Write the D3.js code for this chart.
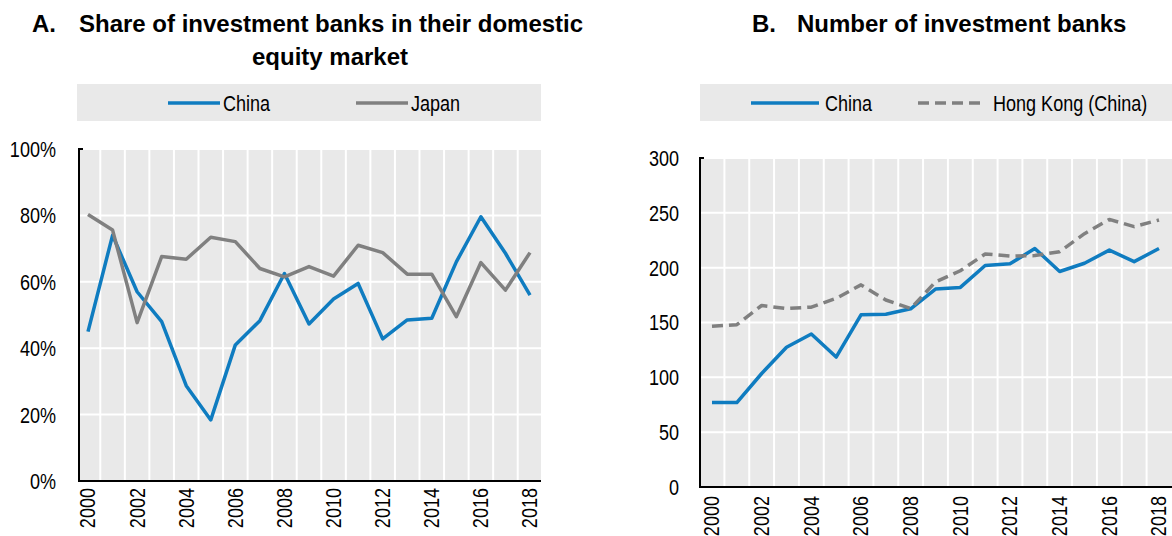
<!DOCTYPE html>
<html><head><meta charset="utf-8">
<script src="https://cdn.jsdelivr.net/npm/d3@7"></script>
<style>
body{margin:0;background:#fff;}
svg{display:block;}
</style></head>
<body><svg id="c" width="1172" height="536"></svg>
<script>
const years = [2000,2001,2002,2003,2004,2005,2006,2007,2008,2009,2010,2011,2012,2013,2014,2015,2016,2017,2018];
const yearTicks = [2000,2002,2004,2006,2008,2010,2012,2014,2016,2018];
// Panel A: share (%)
const shareChina = [45,74,57,48,28.7,18.4,41,48.3,62.5,47.3,54.8,59.5,42.8,48.5,49,66,79.6,68.6,56];
const shareJapan = [80.3,75.6,47.7,67.6,66.8,73.4,72.1,64,61.5,64.6,61.7,71,68.8,62.3,62.3,49.5,65.8,57.5,68.8];
const shareTicks = [0,20,40,60,80,100];
// Panel B: number of banks
const numChina = [77,77,103.5,127.5,139.5,118.5,157,157.5,162.5,180.5,182,202,203.5,217.5,196.5,204,216,205.5,217.5];
const numHK = [146.5,148,165.5,162.8,164,172,184.3,170.5,162.8,187,197.2,212.5,210.6,211,214.6,231,244,237.4,243.5];
const numTicks = [0,50,100,150,200,250,300];

const BLUE = "#0f7cc0", GREY = "#808080", BG = "#e9e9e9";
const FONT = "'Liberation Sans Narrow','Arial Narrow','Liberation Sans',Arial,sans-serif";
const TFONT = "'Liberation Sans',Arial,sans-serif";
const NARROW = "scale(0.82,1)";
const svg = d3.select("#c");

function panel(cfg){
  const g = svg.append("g");
  const x = d3.scalePoint().domain(years).range([cfg.px0, cfg.px1]);
  const step = x.step();
  const y = d3.scaleLinear().domain(cfg.yDomain).range([cfg.yBottom, cfg.yTop]);
  g.append("rect").attr("x", cfg.left).attr("y", cfg.yTop).attr("width", cfg.right - cfg.left)
    .attr("height", cfg.yBottom - cfg.yTop).attr("fill", BG);
  g.selectAll(".vg").data(years.slice(0,-1)).join("line")
    .attr("x1", d => x(d) + step/2).attr("x2", d => x(d) + step/2)
    .attr("y1", cfg.yTop).attr("y2", cfg.yBottom)
    .attr("stroke", "#fff").attr("stroke-width", 2);
  g.selectAll(".hg").data(cfg.ticks).join("line")
    .attr("x1", cfg.left).attr("x2", cfg.right)
    .attr("y1", d => y(d)).attr("y2", d => y(d))
    .attr("stroke", "#fff").attr("stroke-width", 2);
  g.selectAll(".yl").data(cfg.ticks).join("text")
    .attr("transform", d => `translate(${cfg.labelX},${y(d)}) ${NARROW}`)
    .attr("dy", "0.36em")
    .attr("text-anchor", "end").attr("font-family", FONT).attr("font-size", 22).attr("fill", "#000")
    .text(cfg.fmt);
  g.selectAll(".xl").data(yearTicks).join("text")
    .attr("transform", d => `translate(${x(d)},${cfg.yBottom + cfg.xlabOff}) rotate(-90) ${NARROW}`)
    .attr("dy", "0.34em").attr("text-anchor", "end")
    .attr("font-family", FONT).attr("font-size", 22).attr("fill", "#000")
    .text(d => d);
  g.append("line").attr("x1", cfg.left).attr("x2", cfg.left).attr("y1", cfg.yTop).attr("y2", cfg.yBottom)
    .attr("stroke", "#000").attr("stroke-width", 2);
  g.append("line").attr("x1", cfg.left - 1).attr("x2", cfg.left + 4).attr("y1", cfg.yTop).attr("y2", cfg.yTop)
    .attr("stroke", "#000").attr("stroke-width", 2);
  g.append("line").attr("x1", cfg.left - 1).attr("x2", cfg.right).attr("y1", cfg.yBottom).attr("y2", cfg.yBottom)
    .attr("stroke", "#000").attr("stroke-width", 2);
  const line = d3.line().x((d,i) => x(years[i])).y(d => y(d));
  cfg.series.forEach(s => {
    g.append("path").datum(s.values).attr("d", line).attr("fill", "none")
      .attr("stroke", s.color).attr("stroke-width", 3.5).attr("stroke-linejoin", "round")
      .attr("stroke-dasharray", s.dash || null);
  });
  g.append("rect").attr("x", cfg.legX0).attr("y", 84).attr("width", cfg.legX1 - cfg.legX0).attr("height", 37).attr("fill", BG);
  cfg.series.forEach(s => {
    g.append("line").attr("x1", s.lx0).attr("x2", s.lx1).attr("y1", 103).attr("y2", 103)
      .attr("stroke", s.color).attr("stroke-width", 3.5).attr("stroke-dasharray", s.dash || null);
    g.append("text").attr("transform", `translate(${s.tx},103) ${NARROW}`).attr("dy", "0.36em")
      .attr("font-family", FONT).attr("font-size", 22).attr("fill", "#000").text(s.name);
  });
  cfg.title.forEach(t => {
    g.append("text").attr("x", t.x).attr("y", t.y).attr("text-anchor", t.anchor || "start")
      .attr("font-family", TFONT).attr("font-weight", "bold").attr("font-size", 24).attr("fill", "#000").text(t.text);
  });
}

panel({
  px0: 88, px1: 530, left: 79, right: 541, yTop: 149, yBottom: 481, yDomain: [0,100],
  ticks: shareTicks, labelX: 56, fmt: d => d + "%", xlabOff: 7,
  series: [
    {name: "China", values: shareChina, color: BLUE, lx0: 168, lx1: 220, tx: 223},
    {name: "Japan", values: shareJapan, color: GREY, lx0: 356, lx1: 408, tx: 411}
  ],
  legX0: 77, legX1: 541,
  title: [
    {text: "A.", x: 32, y: 32},
    {text: "Share of investment banks in their domestic", x: 79, y: 32},
    {text: "equity market", x: 330, y: 65, anchor: "middle"}
  ]
});

panel({
  px0: 712, px1: 1159, left: 700, right: 1172, yTop: 158, yBottom: 487, yDomain: [0,300],
  ticks: numTicks, labelX: 679, fmt: d => d, xlabOff: 9,
  series: [
    {name: "China", values: numChina, color: BLUE, lx0: 751, lx1: 819, tx: 825},
    {name: "Hong Kong (China)", values: numHK, color: GREY, dash: "11,6", lx0: 918, lx1: 985, tx: 993}
  ],
  legX0: 700, legX1: 1172,
  title: [
    {text: "B.", x: 752, y: 32},
    {text: "Number of investment banks", x: 797, y: 32}
  ]
});
</script></body></html>
